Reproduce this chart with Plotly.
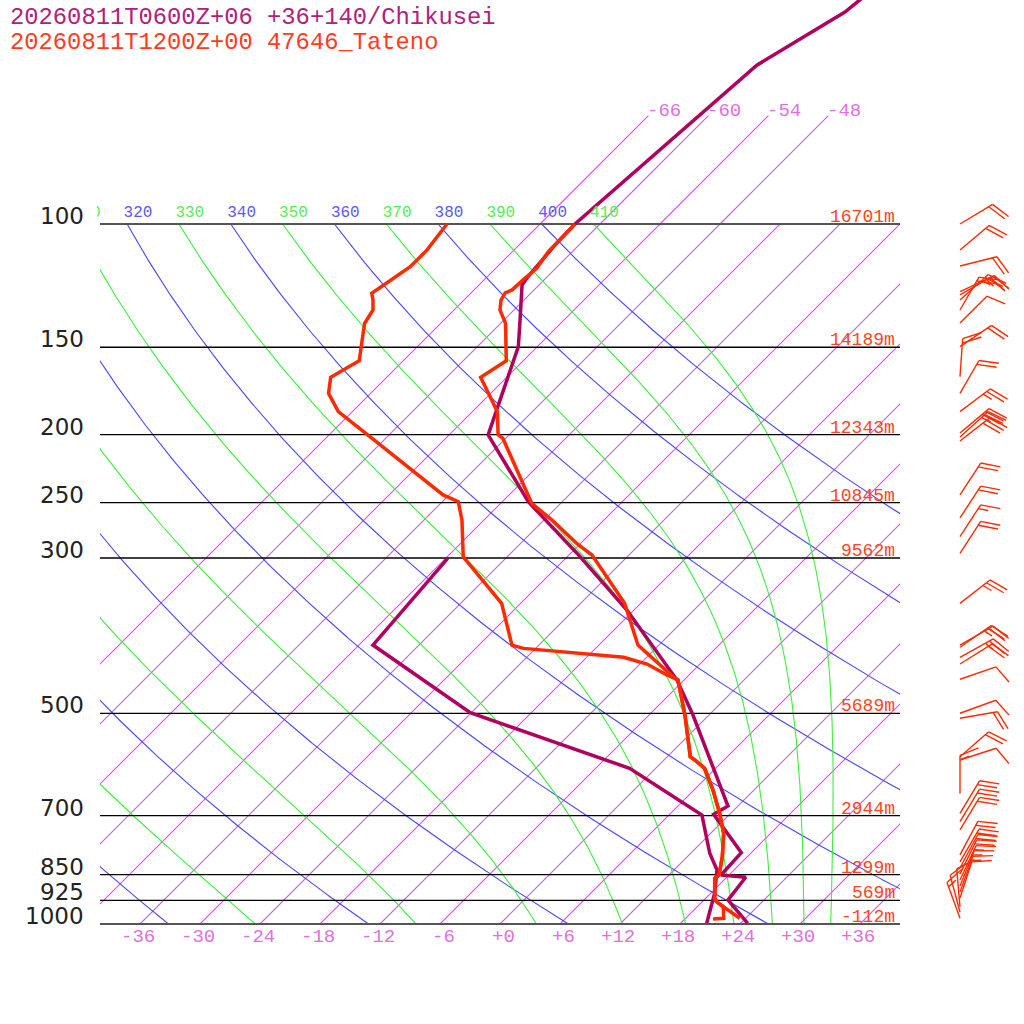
import numpy as np
import plotly.graph_objects as go

# ---------------- data ----------------
TITLE_1 = "20260811T0600Z+06 +36+140/Chikusei"
TITLE_2 = "20260811T1200Z+00 47646_Tateno"

levels_hpa = [100, 150, 200, 250, 300, 500, 700, 850, 925, 1000]
level_labels = ["100", "150", "200", "250", "300", "500", "700", "850", "925", "1000"]
level_heights_m = [16701, 14189, 12343, 10845, 9562, 5689, 2944, 1299, 569, -112]

bottom_ticks_c = [-36, -30, -24, -18, -12, -6, 0, 6, 12, 18, 24, 30, 36]
top_iso_labels_c = [-66, -60, -54, -48]
isotherms_c = [-66, -60, -54, -48, -42, -36, -30, -24, -18, -12, -6, 0, 6, 12, 18, 24, 30, 36]
dry_theta_k = [240, 260, 280, 300, 320, 340, 360, 380, 400]
moist_theta_k = [250, 270, 290, 310, 330, 350, 370, 390, 410]
label_theta_k = [310, 320, 330, 340, 350, 360, 370, 380, 390, 400, 410]

# Tateno (red) temperature
tateno_t_p = [981.4, 929.2, 918.9, 860.4, 851.1, 801.3, 742.1, 694.9, 643.6, 599.3, 583.1, 576.8,
              502.9, 448.2, 443.4, 399.5, 348.3, 297.1, 285.9, 264.8, 250.6, 202.3, 200.1, 185.4,
              174.6, 165.6, 156.8, 138.7, 132.7, 128.4, 125.4, 124.2, 120.2, 115.7, 109.5, 106.6, 100.0]
tateno_t = [23.4, 19.4, 18.9, 16.9, 17.0, 15.5, 13.3, 10.9, 7.9, 4.9, 3.1, 2.3,
            -2.4, -6.6, -7.4, -14.1, -19.6, -27.7, -30.4, -35.2, -38.9, -48.3, -49.1, -51.5,
            -54.2, -56.6, -55.7, -59.5, -61.4, -62.3, -62.6, -62.2, -62.1, -61.9, -62.4, -62.4, -62.5]
# Tateno (red) dew point
tateno_td_p = [983.7, 981.4, 944.8, 929.2, 918.9, 860.4, 851.1, 801.3, 742.1, 694.9, 643.6, 599.3,
               583.1, 576.8, 502.9, 448.2, 440.9, 425.2, 415.9, 403.9, 399.5, 348.3, 298.8, 264.8,
               249.3, 243.8, 202.3, 185.4, 174.6, 165.6, 156.8, 149.7, 138.7, 132.7, 128.4, 125.6,
               115.1, 108.9, 100.0]
tateno_td = [20.8, 21.8, 20.6, 19.4, 18.9, 16.9, 17.0, 15.5, 13.3, 10.9, 7.9, 4.9,
             3.1, 2.3, -2.4, -6.6, -8.2, -11.3, -14.3, -25.2, -26.7, -31.9, -40.4, -44.2,
             -46.4, -48.6, -61.4, -67.4, -70.2, -71.6, -70.4, -71.6, -73.6, -74.1, -75.1, -75.9,
             -74.7, -74.7, -75.3]

# Chikusei (purple) temperature
chik_t_p = [997.7, 924.0, 857.5, 851.1, 790.8, 697.2, 678.4, 596.2, 502.9, 448.2, 401.8, 356.1,
            298.8, 264.8, 249.3, 200.1, 176.5, 149.7, 137.1, 122.2, 119.6, 113.7, 107.2, 100.0,
            59.3, 49.8, 46.3]
chik_t = [24.7, 20.4, 19.9, 17.2, 17.0, 10.4, 11.0, 5.6, -1.6, -6.7, -12.4, -18.7,
          -28.7, -35.9, -39.4, -50.1, -52.6, -55.9, -58.4, -61.7, -61.9, -62.1, -62.4, -62.5,
          -60.2, -56.7, -56.2]
# Chikusei (purple) dew point
chik_td_p = [997.7, 904.3, 837.2, 792.4, 698.8, 599.3, 499.1, 399.5, 300.3]
chik_td = [20.6, 18.4, 16.3, 13.9, 9.3, -2.6, -24.1, -40.6, -41.8]

# Tateno winds
wind_p = [100, 108.9, 114.8, 124.9, 126.3, 128.4, 132.7, 138.5, 149.7, 165.2,
          174.6, 185.4, 198.9, 201.5, 204.2, 243.8, 263.0, 279.7, 295.4, 348.3,
          399.5, 402.4, 415.9, 425.2, 447.1, 500.0, 508.3, 576.8, 583.1, 650.8,
          694.9, 714.2, 733.9, 796.8, 815.4, 831.8, 848.4, 865.3, 882.6, 900.2,
          918.2, 944.8, 961.3, 981.4]
wind_dir = [59, 50, 76, 65, 60, 48, 30, 45, 56, 4,
            30, 53, 50, 48, 52, 33, 33, 33, 33, 52,
            60, 55, 61, 58, 71, 70, 80, 49, 72, 0,
            31, 31, 31, 28, 30, 28, 26, 25, 22, 20,
            18, 355, 345, 340]
wind_kt = [20, 20, 20, 25, 20, 25, 20, 10, 20, 20,
           20, 25, 30, 25, 30, 20, 20, 15, 20, 25,
           20, 25, 25, 20, 10, 10, 20, 20, 10, 15,
           20, 20, 20, 20, 20, 20, 20, 15, 15, 15,
           10, 10, 10, 15]

# ---------------- styling / geometry constants ----------------
SKEW = 70.0          # degC shift per pressure decade (45 deg isotherms)
KAPPA = 287.04 / 1005.7
RED = "rgb(255,42,0)"
PURPLE = "rgb(176,0,94)"
ISO_C = "rgb(210,85,238)"
DRY_C = "rgb(70,70,255)"
MOIST_C = "rgb(60,240,60)"
MONO = "Liberation Mono"
BARB_X = 46.0        # staff base column (x2 units)
X2_RANGE = [-50, 52.4]
Y2_RANGE = [3 + 100 / 700, 2 - 224 / 700]


def skx(t, p):
    return np.asarray(t, float) + SKEW * np.log10(1000.0 / np.asarray(p, float))


def moist_curve(theta, p):
    Rd, cp, Lv, eps = 287.04, 1005.7, 2.501e6, 0.622

    def f(T, pp):
        es = 6.112 * np.exp(17.67 * (T - 273.15) / (T - 29.65))
        rs = eps * es / (pp - es)
        return (Rd * T + Lv * rs) / (pp * (cp + Lv * Lv * rs * eps / (Rd * T * T)))

    T = theta * (p[0] / 1000.0) ** KAPPA
    out = [T]
    for i in range(1, len(p)):
        dp = p[i] - p[i - 1]
        k1 = f(T, p[i - 1])
        k2 = f(T + 0.5 * dp * k1, p[i - 1] + 0.5 * dp)
        k3 = f(T + 0.5 * dp * k2, p[i - 1] + 0.5 * dp)
        k4 = f(T + dp * k3, p[i])
        T = T + dp * (k1 + 2 * k2 + 2 * k3 + k4) / 6
        out.append(T)
    return np.array(out) - 273.15


fig = go.Figure()

# ---- background grid in the clipped box subplot (x, y) ----
for t in isotherms_c:
    fig.add_trace(go.Scatter(x=[t, t + SKEW], y=[1000, 100], mode="lines",
                             line=dict(color=ISO_C, width=1.1),
                             hoverinfo="skip", xaxis="x", yaxis="y"))

pp = np.geomspace(100, 1000, 400)
dx, dy = [], []
for th in dry_theta_k:
    tt = th * (pp / 1000.0) ** KAPPA - 273.15
    dx += list(skx(tt, pp)) + [None]
    dy += list(pp) + [None]
fig.add_trace(go.Scatter(x=dx, y=dy, mode="lines", line=dict(color=DRY_C, width=1.1),
                         hoverinfo="skip", xaxis="x", yaxis="y"))

mx, my = [], []
for th in moist_theta_k:
    tt = moist_curve(th, pp)
    mx += list(skx(tt, pp)) + [None]
    my += list(pp) + [None]
fig.add_trace(go.Scatter(x=mx, y=my, mode="lines", line=dict(color=MOIST_C, width=1.1),
                         hoverinfo="skip", xaxis="x", yaxis="y"))

# ---- full-figure subplot (x2, y2) ----
for t in top_iso_labels_c:
    fig.add_trace(go.Scatter(x=[float(skx(t, 100)), float(skx(t, 70))], y=[100, 70],
                             mode="lines", line=dict(color=ISO_C, width=1.1),
                             hoverinfo="skip", xaxis="x2", yaxis="y2"))

for p in levels_hpa:
    edge = p in (100, 1000)
    fig.add_trace(go.Scatter(x=[-40, 40], y=[p, p], mode="lines",
                             line=dict(color="#555555" if edge else "#000000",
                                       width=2 if edge else 1.3),
                             hoverinfo="skip", xaxis="x2", yaxis="y2"))

for pr, tr in [(chik_td_p, chik_td), (chik_t_p, chik_t)]:
    fig.add_trace(go.Scatter(x=skx(tr, pr), y=pr, mode="lines",
                             line=dict(color=PURPLE, width=3.5),
                             hoverinfo="skip", xaxis="x2", yaxis="y2"))
for pr, tr in [(tateno_td_p, tateno_td), (tateno_t_p, tateno_t)]:
    fig.add_trace(go.Scatter(x=skx(tr, pr), y=pr, mode="lines",
                             line=dict(color=RED, width=3.5),
                             hoverinfo="skip", xaxis="x2", yaxis="y2"))


def barb(p, d, kt):
    r = np.radians(d)
    ux, uy = np.sin(r), -np.cos(r)
    a = np.radians(68)
    vx = ux * np.cos(a) - uy * np.sin(a)
    vy = ux * np.sin(a) + uy * np.cos(a)
    L, F, S = 38.0, 20.0, 4.5
    segs = [((0, 0), (L * ux, L * uy))]
    n10 = int(kt // 10)
    half = (kt % 10) >= 5
    k = 0
    for _ in range(n10):
        sx, sy = (L - k * S) * ux, (L - k * S) * uy
        segs.append(((sx, sy), (sx + F * vx, sy + F * vy)))
        k += 1
    if half:
        k = max(k, 1)
        sx, sy = (L - k * S) * ux, (L - k * S) * uy
        segs.append(((sx, sy), (sx + 0.5 * F * vx, sy + 0.5 * F * vy)))
    xs, ys = [], []
    for (x0, y0), (x1, y1) in segs:
        xs += [BARB_X + x0 / 10.0, BARB_X + x1 / 10.0, None]
        ys += [p * 10 ** (y0 / 700.0), p * 10 ** (y1 / 700.0), None]
    return xs, ys


bx, by = [], []
for p, d, k in zip(wind_p, wind_dir, wind_kt):
    xs, ys = barb(p, d, k)
    bx += xs
    by += ys
fig.add_trace(go.Scatter(x=bx, y=by, mode="lines", line=dict(color=RED, width=1.4),
                         hoverinfo="skip", xaxis="x2", yaxis="y2"))

# ---- adiabat labels (x3, y3; clipped at the left of the box) ----
lab_x, lab_t, lab_c = [], [], []
for th in label_theta_k:
    lab_x.append(float(skx(th * 0.1 ** KAPPA - 273.15, 100)) - 0.35)
    lab_t.append(str(th))
    lab_c.append("rgb(90,90,240)" if th in dry_theta_k else "rgb(85,238,85)")
fig.add_trace(go.Scatter(x=lab_x, y=[96.3] * len(lab_x), mode="text", text=lab_t,
                         textposition="middle right", cliponaxis=True,
                         textfont=dict(family=MONO, size=16, color=lab_c),
                         hoverinfo="skip", xaxis="x3", yaxis="y3"))

ann = []
for p, lab in zip(levels_hpa, level_labels):
    ann.append(dict(x=-41.4, y=np.log10(p), xref="x2", yref="y2", text=lab, showarrow=False,
                    xanchor="right", yanchor="middle", yshift=8,
                    font=dict(family="DejaVu Sans", size=23, color="#222222")))
for p, h in zip(levels_hpa, level_heights_m):
    ann.append(dict(x=39.7, y=np.log10(p), xref="x2", yref="y2", text=f"{h}m", showarrow=False,
                    xanchor="right", yanchor="middle", yshift=7,
                    font=dict(family=MONO, size=18, color="rgb(255,68,34)")))
for t in bottom_ticks_c:
    ann.append(dict(x=t + 1.7, y=3.0, xref="x2", yref="y2", text=f"{t:+d}", showarrow=False,
                    xanchor="right", yanchor="middle", yshift=-13,
                    font=dict(family=MONO, size=19, color="rgb(224,112,224)")))
for t in top_iso_labels_c:
    ann.append(dict(x=float(skx(t, 70)) - 0.3, y=np.log10(70), xref="x2", yref="y2",
                    text=f"{t:+d}", showarrow=False, xanchor="left", yanchor="middle", yshift=5,
                    font=dict(family=MONO, size=19, color="rgb(224,112,224)")))
ann.append(dict(x=8 / 1024, y=1 - 17.5 / 1024, xref="paper", yref="paper", text=TITLE_1,
                showarrow=False, xanchor="left", yanchor="middle",
                font=dict(family=MONO, size=23.8, color="rgb(176,32,122)")))
ann.append(dict(x=8 / 1024, y=1 - 42 / 1024, xref="paper", yref="paper", text=TITLE_2,
                showarrow=False, xanchor="left", yanchor="middle",
                font=dict(family=MONO, size=23.8, color="rgb(255,60,30)")))

hid = dict(visible=False, showgrid=False, zeroline=False, fixedrange=True)
fig.update_layout(
    width=1024, height=1024, margin=dict(l=0, r=0, t=0, b=0, pad=0),
    paper_bgcolor="white", plot_bgcolor="rgba(0,0,0,0)", showlegend=False,
    xaxis=dict(domain=[100 / 1024, 900 / 1024], range=[-40, 40], anchor="y", **hid),
    yaxis=dict(domain=[100 / 1024, 800 / 1024], type="log", range=[3, 2], anchor="x", **hid),
    xaxis2=dict(domain=[0, 1], range=X2_RANGE, anchor="y2", **hid),
    yaxis2=dict(domain=[0, 1], type="log", range=Y2_RANGE, anchor="x2", **hid),
    xaxis3=dict(domain=[97 / 1024, 1], range=[-40.3, X2_RANGE[1]], anchor="y3", **hid),
    yaxis3=dict(domain=[0, 1], type="log", range=Y2_RANGE, anchor="x3", **hid),
    annotations=ann,
)

fig.write_html("out.html", config={"displayModeBar": False},
               post_script="document.body.style.margin='0';document.body.style.overflow='hidden';")
